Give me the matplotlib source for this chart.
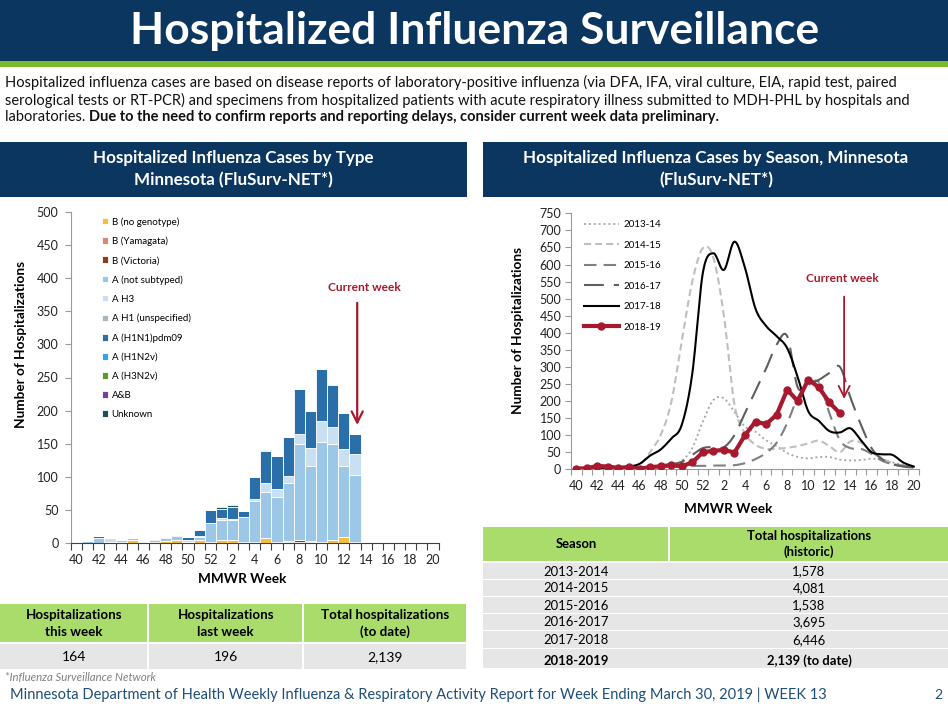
import numpy as np
import matplotlib
matplotlib.use('Agg')
import matplotlib.pyplot as plt
from matplotlib.patches import Rectangle

plt.rcParams['font.family'] = ['Lato', 'DejaVu Sans']

# MMWR weeks of a season, 40 -> 20
weeks = list(range(40, 53)) + list(range(1, 21))
week_labels = [str(w) for w in weeks]

# 2018-19 hospitalizations by type (weeks 40 .. 13)
b_no_genotype = [0, 0, 0, 0, 1, 4, 0, 2, 3, 4, 1, 5, 2, 4, 4, 2, 2, 7, 2, 2, 2, 1, 1, 4, 9, 1]
b_yamagata = [0, 0, 0, 0, 0, 0, 0, 0, 0, 0, 0, 0, 0, 0, 0, 0, 0, 0, 0, 1, 0, 2, 0, 0, 0, 0]
b_victoria = [0, 0, 0, 0, 0, 0, 0, 0, 0, 0, 0, 0, 0, 0, 0, 0, 0, 0, 0, 0, 2, 0, 0, 0, 0, 0]
a_not_subtyped = [2, 3, 7, 2, 3, 3, 1, 3, 5, 7, 1, 4, 28, 30, 30, 37, 61, 70, 67, 87, 146, 114, 151, 145, 108, 102]
a_h3 = [0, 0, 0, 6, 0, 0, 0, 0, 0, 0, 3, 2, 0, 4, 2, 0, 4, 13, 12, 11, 15, 27, 32, 26, 25, 31]
a_h1_unspec = [0] * 26
a_h1n1pdm09 = [0, 0, 3, 0, 0, 0, 0, 1, 1, 1, 4, 8, 20, 13, 19, 10, 33, 49, 51, 59, 67, 55, 79, 64, 54, 30]
a_h1n2v = [0] * 26
a_h3n2v = [0] * 26
a_and_b = [0, 0, 0, 0, 0, 0, 0, 0, 0, 0, 0, 0, 0, 0, 0, 0, 0, 0, 0, 0, 0, 1, 0, 1, 0, 0]
unknown = [0, 0, 0, 0, 0, 0, 0, 0, 0, 0, 0, 1, 0, 3, 2, 0, 0, 1, 0, 0, 1, 0, 0, 0, 0, 0]

type_labels = ['B (no genotype)', 'B (Yamagata)', 'B (Victoria)', 'A (not subtyped)', 'A H3',
               'A H1 (unspecified)', 'A (H1N1)pdm09', 'A (H1N2v)', 'A (H3N2v)', 'A&B', 'Unknown']
type_data = [b_no_genotype, b_yamagata, b_victoria, a_not_subtyped, a_h3, a_h1_unspec,
             a_h1n1pdm09, a_h1n2v, a_h3n2v, a_and_b, unknown]
type_colors = ['#F5BF3C', '#D98872', '#8E3B1F', '#9DC7E6', '#C9E0F2', '#A3B9BF',
               '#2A6FAA', '#3AA0E8', '#5E9A2C', '#7B3BA6', '#1C4F5C']

# hospitalizations by season (weeks 40 .. 20)
s2013_14 = [2, 2, 3, 3, 3, 4, 4, 6, 10, 12, 25, 62, 140, 203, 208, 168, 125, 110, 85, 68, 48, 36, 32,
            36, 36, 28, 26, 27, 31, 28, 20, 13, 8]
s2014_15 = [2, 2, 3, 3, 4, 6, 12, 50, 100, 195, 375, 550, 648, 620, 450, 190, 105, 72, 60, 60, 63, 68,
            76, 84, 68, 50, 82, 78, 50, 32, 18, 10, 6]
s2015_16 = [3, 3, 3, 4, 4, 5, 5, 6, 7, 8, 9, 10, 10, 11, 11, 12, 18, 30, 48, 78, 135, 210, 245, 255,
            165, 85, 62, 60, 45, 25, 15, 10, 6]
s2016_17 = [2, 2, 3, 3, 4, 5, 6, 8, 10, 15, 22, 42, 62, 65, 65, 100, 165, 230, 295, 365, 390, 240,
            248, 262, 282, 300, 210, 130, 62, 30, 15, 8, 5]
s2017_18 = [2, 3, 4, 4, 5, 8, 16, 40, 58, 90, 130, 280, 575, 633, 584, 667, 590, 470, 420, 390, 355,
            270, 170, 142, 112, 108, 120, 85, 50, 44, 42, 20, 8]
s2018_19 = [2, 3, 10, 8, 4, 7, 1, 6, 9, 12, 9, 20, 50, 54, 57, 49, 100, 140, 132, 160, 233, 200, 263,
            240, 196, 164]
season_labels = ['2013-14', '2014-15', '2015-16', '2016-17', '2017-18', '2018-19']

# tables
summary_heads = ['Hospitalizations\nthis week', 'Hospitalizations\nlast week', 'Total hospitalizations\n(to date)']
summary_values = ['164', '196', '2,139']
season_names = ['2013-2014', '2014-2015', '2015-2016', '2016-2017', '2017-2018', '2018-2019']
season_totals = ['1,578', '4,081', '1,538', '3,695', '6,446', '2,139 (to date)']

NAVY = '#0A365F'
GREEN = '#7AB929'
TABLE_GREEN = '#A9DC6A'
TABLE_GRAY = '#E6E6E6'
RED = '#A6192E'


def smooth(xs, ys, n=12):
    # bezier smoothing like the spreadsheet "smoothed line"
    xs = np.asarray(xs, float)
    ys = np.asarray(ys, float)
    pts = np.column_stack([xs, ys])
    pad = np.vstack([pts[:1], pts, pts[-1:]])
    t = np.linspace(0, 1, n, endpoint=False)[:, None]
    out = []
    for k in range(len(pts) - 1):
        p0, p1, p2, p3 = pad[k], pad[k + 1], pad[k + 2], pad[k + 3]
        c1 = p1 + (p2 - p0) / 6
        c2 = p2 - (p3 - p1) / 6
        out.append((1 - t) ** 3 * p1 + 3 * (1 - t) ** 2 * t * c1 + 3 * (1 - t) * t ** 2 * c2 + t ** 3 * p2)
    out.append(pts[-1:])
    out = np.vstack(out)
    return out[:, 0], out[:, 1]


W, H = 948, 709
fig = plt.figure(figsize=(W / 100, H / 100), dpi=100)
ax_bg = fig.add_axes([0, 0, 1, 1], zorder=0)
ax_bg.set_xlim(0, W)
ax_bg.set_ylim(H, 0)
ax_bg.axis('off')
renderer = fig.canvas.get_renderer()


def fit_text(x, y, s, width, **kw):
    t = ax_bg.text(x, y, s, fontsize=10, **kw)
    w = t.get_window_extent(renderer).width
    t.set_fontsize(10 * width / w)
    return t


def box(x0, y0, x1, y1, color):
    ax_bg.add_patch(Rectangle((x0, y0), x1 - x0, y1 - y0, facecolor=color, edgecolor='none'))


# banner
box(0, 0, W, 61, NAVY)
box(0, 61, W, 67, GREEN)
fit_text(475, 31, 'Hospitalized Influenza Surveillance', 690, color='white', fontweight='bold',
         ha='center', va='center')

# intro paragraph
t1 = fit_text(5, 82, 'Hospitalized influenza cases are based on disease reports of laboratory-positive influenza '
              '(via DFA, IFA, viral culture, EIA, rapid test, paired', 892, va='center', color='#111111')
fs = t1.get_fontsize()
ax_bg.text(5, 100, 'serological tests or RT-PCR) and specimens from hospitalized patients with acute respiratory '
           'illness submitted to MDH-PHL by hospitals and', fontsize=fs, va='center', color='#111111')
t3 = ax_bg.text(5, 117, 'laboratories. ', fontsize=fs, va='center', color='#111111')
w3 = t3.get_window_extent(renderer).width
ax_bg.text(5 + w3, 117, 'Due to the need to confirm reports and reporting delays, consider current week data '
           'preliminary.', fontsize=fs, va='center', fontweight='bold', color='#111111')

# section headers
box(0, 142, 467, 197, NAVY)
box(483, 142, W, 197, NAVY)
th = fit_text(233, 158, 'Hospitalized Influenza Cases by Type', 282, color='white', fontweight='bold',
              ha='center', va='center')
hs = th.get_fontsize()
ax_bg.text(233, 180, 'Minnesota (FluSurv-NET*)', fontsize=hs, color='white', fontweight='bold',
           ha='center', va='center')
ax_bg.text(716, 158, 'Hospitalized Influenza Cases by Season, Minnesota', fontsize=hs, color='white',
           fontweight='bold', ha='center', va='center')
ax_bg.text(716, 180, '(FluSurv-NET*)', fontsize=hs, color='white', fontweight='bold',
           ha='center', va='center')

# ---- left chart: stacked bars by type ----
ax1 = fig.add_axes([71 / W, 1 - 543 / H, 367.5 / W, 331 / H], zorder=1)
ax1.patch.set_alpha(0)
x1 = np.arange(len(s2018_19))
bottom = np.zeros(len(x1))
handles = []
for vals, col, lab in zip(type_data, type_colors, type_labels):
    bars = ax1.bar(x1, vals, width=1.0, bottom=bottom, color=col, edgecolor='white', linewidth=0.6, label=lab)
    handles.append(bars)
    bottom += np.array(vals)

ax1.set_xlim(-0.5, len(weeks) - 0.5)
ax1.set_ylim(0, 500)
ax1.set_yticks(range(0, 501, 50))
ax1.set_xticks(np.arange(0, len(weeks), 2))
ax1.set_xticklabels(week_labels[::2])
ax1.set_xticks(np.arange(-0.5, len(weeks), 1), minor=True)
ax1.tick_params(axis='x', which='major', length=0, pad=8, labelsize=9, colors='#222222')
ax1.tick_params(axis='x', which='minor', length=5, width=0.8, color='#404040', direction='out')
ax1.tick_params(axis='y', length=4, width=0.8, color='#9A9A9A', pad=5, labelsize=9, labelcolor='#222222')
for s in ['top', 'right']:
    ax1.spines[s].set_visible(False)
ax1.spines['left'].set_color('#9A9A9A')
ax1.spines['bottom'].set_color('#404040')
ax1.legend(handles, type_labels, loc='upper left', bbox_to_anchor=(0.084, 0.985), frameon=False,
           fontsize=7, handlelength=0.65, handleheight=0.65, handletextpad=0.35, labelspacing=1.03,
           borderaxespad=0, borderpad=0)
cur = len(s2018_19) - 1
ax1.annotate('', xy=(cur + 0.2, 174), xytext=(cur + 0.2, 367),
             arrowprops=dict(arrowstyle='->,head_length=0.8,head_width=0.4', color=RED, lw=1.6))
ax1.text(cur + 0.8, 386, 'Current week', color=RED, fontsize=8.6, fontweight='bold', ha='center', va='center')
ax_bg.text(242, 579, 'MMWR Week', fontsize=9.8, fontweight='bold', ha='center', va='center')
ax_bg.text(21, 344, 'Number of Hospitalizations', fontsize=9.8, fontweight='bold', ha='center',
           va='center', rotation=90)

# ---- right chart: seasons ----
ax2 = fig.add_axes([571 / W, 1 - 469.3 / H, 348 / W, 256 / H], zorder=1)
ax2.patch.set_alpha(0)
x2 = np.arange(len(weeks))
styles = [
    dict(color='#A6A6A6', lw=1.3, ls=(0, (1.1, 1.6))),
    dict(color='#BFBFBF', lw=1.5, ls=(0, (3.4, 1.9))),
    dict(color='#808080', lw=1.5, ls=(0, (6.0, 3.4))),
    dict(color='#5F5F5F', lw=1.5, ls=(0, (9.5, 4.8))),
    dict(color='black', lw=1.5, ls='-'),
]
line_handles = []
for vals, st, lab in zip([s2013_14, s2014_15, s2015_16, s2016_17, s2017_18], styles, season_labels):
    sx, sy = smooth(x2[:len(vals)], vals)
    ln, = ax2.plot(sx, sy, label=lab, **st)
    line_handles.append(ln)
ln, = ax2.plot(x2[:len(s2018_19)], s2018_19, color=RED, lw=3, marker='o', markersize=5, label='2018-19',
               zorder=5)
line_handles.append(ln)

ax2.set_xlim(-0.5, len(weeks) - 0.5)
ax2.set_ylim(0, 750)
ax2.set_yticks(range(0, 751, 50))
ax2.set_xticks(np.arange(0, len(weeks), 2))
ax2.set_xticklabels(week_labels[::2])
ax2.set_xticks(np.arange(-0.5, len(weeks), 1), minor=True)
ax2.tick_params(axis='x', which='major', length=0, pad=8, labelsize=9, colors='#222222')
ax2.tick_params(axis='x', which='minor', length=4, width=0.8, color='#9A9A9A', direction='out')
ax2.tick_params(axis='y', length=4, width=0.8, color='#9A9A9A', pad=3, labelsize=9, labelcolor='#222222')
for s in ['top', 'right']:
    ax2.spines[s].set_visible(False)
ax2.spines['left'].set_color('#9A9A9A')
ax2.spines['bottom'].set_color('#9A9A9A')
ax2.legend(line_handles, season_labels, loc='upper left', bbox_to_anchor=(0.037, 0.973), frameon=False,
           fontsize=7, handlelength=3.6, handletextpad=0.45, labelspacing=1.18, borderaxespad=0,
           borderpad=0, numpoints=1)
ax2.annotate('', xy=(cur + 0.4, 198), xytext=(cur + 0.4, 514),
             arrowprops=dict(arrowstyle='->,head_length=0.8,head_width=0.4', color=RED, lw=1.3))
ax2.text(cur + 0.2, 558, 'Current week', color=RED, fontsize=8.6, fontweight='bold', ha='center', va='center')
ax_bg.text(728, 509, 'MMWR Week', fontsize=9.8, fontweight='bold', ha='center', va='center')
ax_bg.text(518, 331, 'Number of Hospitalizations', fontsize=9.8, fontweight='bold', ha='center',
           va='center', rotation=90)

# ---- left summary table ----
col_edges = [0, 148.5, 303, 467]
for i, (head, val) in enumerate(zip(summary_heads, summary_values)):
    x0, x1_ = col_edges[i], col_edges[i + 1]
    box(x0 + (1 if i else 0), 604, x1_ - 1, 642, TABLE_GREEN)
    box(x0 + (1 if i else 0), 644, x1_ - 1, 669, TABLE_GRAY)
    cx = (x0 + x1_) / 2
    l1, l2 = head.split('\n')
    ax_bg.text(cx, 615, l1, fontsize=9.6, fontweight='bold', ha='center', va='center')
    ax_bg.text(cx, 632, l2, fontsize=9.6, fontweight='bold', ha='center', va='center')
    ax_bg.text(cx, 657, val, fontsize=10, ha='center', va='center')

# ---- right season table ----
box(483, 527, 668, 561, TABLE_GREEN)
box(670, 527, W, 561, TABLE_GREEN)
ax_bg.text(576, 544, 'Season', fontsize=9.4, fontweight='bold', ha='center', va='center')
ax_bg.text(809, 536, 'Total hospitalizations', fontsize=9.4, fontweight='bold', ha='center', va='center')
ax_bg.text(809, 552, '(historic)', fontsize=9.4, fontweight='bold', ha='center', va='center')
row_edges = [563, 580, 597, 614, 631, 649, 669]
for i, (name, tot) in enumerate(zip(season_names, season_totals)):
    y0, y1 = row_edges[i], row_edges[i + 1]
    box(483, y0, W, y1 - 1.2, TABLE_GRAY)
    wt = 'bold' if i == len(season_names) - 1 else 'normal'
    cy = (y0 + y1) / 2 + (2 if i == len(season_names) - 1 else 0)
    ax_bg.text(576, cy, name, fontsize=9.4, fontweight=wt, ha='center', va='center')
    ax_bg.text(809, cy, tot, fontsize=9.4, fontweight=wt, ha='center', va='center')

# footnote and footer
ax_bg.text(5, 678, '*Influenza Surveillance Network', fontsize=8.2, style='italic', color='#808080',
           va='center')
fit_text(10, 695, 'Minnesota Department of Health Weekly Influenza & Respiratory Activity Report for '
         'Week Ending March 30, 2019 | WEEK 13', 812, color='#1F4E79', va='center')
ax_bg.text(938, 695, '2', fontsize=10, color='#1F4E79', ha='center', va='center')

fig.savefig('out.png', dpi=100)
